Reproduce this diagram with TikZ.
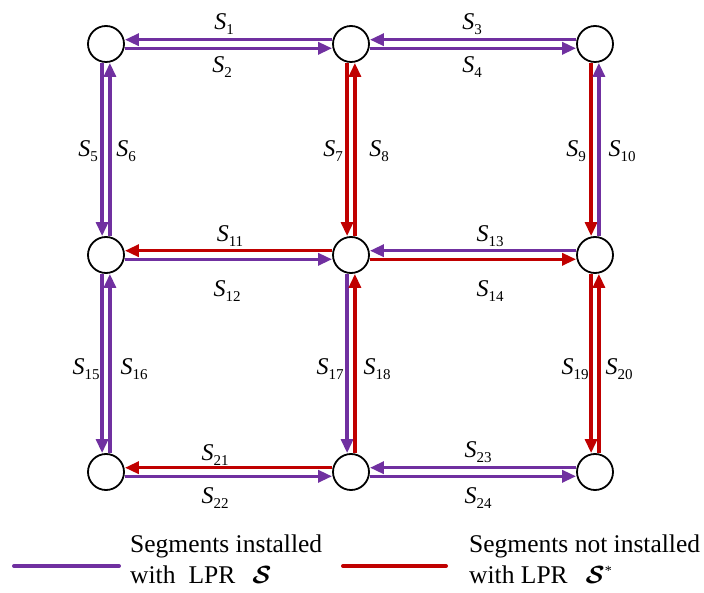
\documentclass[tikz,border=0pt]{standalone}
\usepackage{fontspec}
\usepackage{amsmath}
\setmainfont{Liberation Serif}
\usetikzlibrary{arrows.meta}
\definecolor{lprpurple}{HTML}{7030A0}
\definecolor{lprred}{HTML}{C00000}
\newcommand\seglab[1]{\textit{S}\raisebox{-0.45ex}{\fontsize{15}{15}\selectfont #1}}
\begin{document}
\begin{tikzpicture}[x=1pt,y=-1pt,
  junction/.style={circle,draw=black,line width=1.8pt,fill=white,minimum size=36pt,inner sep=0pt},
  seg/.style={line width=3.3pt,-{Triangle[length=14pt,width=12pt]}},
  inst/.style={seg,draw=lprpurple},
  notinst/.style={seg,draw=lprred},
  lab/.style={font=\fontsize{24}{27}\selectfont,inner sep=0pt},
  legtext/.style={font=\fontsize{25.5}{29}\selectfont,inner sep=0pt,anchor=base west},
  legline/.style={line width=4pt,line cap=round}]
\useasboundingbox (0,0) rectangle (704,593);

% junctions
\node[junction] (TL) at (106,44) {};
\node[junction] (TM) at (351,44) {};
\node[junction] (TR) at (595,44) {};
\node[junction] (ML) at (106,255) {};
\node[junction] (MM) at (351,255) {};
\node[junction] (MR) at (595,255) {};
\node[junction] (BL) at (106,472) {};
\node[junction] (BM) at (351,472) {};
\node[junction] (BR) at (595,472) {};

% horizontal segments (upper goes left, lower goes right)
\draw[inst]    ([yshift=4.3pt]TM.west) -- ([yshift=4.3pt]TL.east);
\draw[inst]    ([yshift=-4.3pt]TL.east) -- ([yshift=-4.3pt]TM.west);
\draw[inst]    ([yshift=4.3pt]TR.west) -- ([yshift=4.3pt]TM.east);
\draw[inst]    ([yshift=-4.3pt]TM.east) -- ([yshift=-4.3pt]TR.west);
\draw[notinst] ([yshift=4.3pt]MM.west) -- ([yshift=4.3pt]ML.east);
\draw[inst]    ([yshift=-4.3pt]ML.east) -- ([yshift=-4.3pt]MM.west);
\draw[inst]    ([yshift=4.3pt]MR.west) -- ([yshift=4.3pt]MM.east);
\draw[notinst] ([yshift=-4.3pt]MM.east) -- ([yshift=-4.3pt]MR.west);
\draw[notinst] ([yshift=4.3pt]BM.west) -- ([yshift=4.3pt]BL.east);
\draw[inst]    ([yshift=-4.3pt]BL.east) -- ([yshift=-4.3pt]BM.west);
\draw[inst]    ([yshift=4.3pt]BR.west) -- ([yshift=4.3pt]BM.east);
\draw[inst]    ([yshift=-4.3pt]BM.east) -- ([yshift=-4.3pt]BR.west);

% vertical segments (left goes down, right goes up)
\draw[inst]    ([xshift=-3.9pt]TL.south) -- ([xshift=-3.9pt]ML.north);
\draw[inst]    ([xshift=3.9pt]ML.north) -- ([xshift=3.9pt]TL.south);
\draw[notinst] ([xshift=-3.9pt]TM.south) -- ([xshift=-3.9pt]MM.north);
\draw[notinst] ([xshift=3.9pt]MM.north) -- ([xshift=3.9pt]TM.south);
\draw[notinst] ([xshift=-3.9pt]TR.south) -- ([xshift=-3.9pt]MR.north);
\draw[inst]    ([xshift=3.9pt]MR.north) -- ([xshift=3.9pt]TR.south);
\draw[inst]    ([xshift=-3.9pt]ML.south) -- ([xshift=-3.9pt]BL.north);
\draw[inst]    ([xshift=3.9pt]BL.north) -- ([xshift=3.9pt]ML.south);
\draw[inst]    ([xshift=-3.9pt]MM.south) -- ([xshift=-3.9pt]BM.north);
\draw[notinst] ([xshift=3.9pt]BM.north) -- ([xshift=3.9pt]MM.south);
\draw[notinst] ([xshift=-3.9pt]MR.south) -- ([xshift=-3.9pt]BR.north);
\draw[notinst] ([xshift=3.9pt]BR.north) -- ([xshift=3.9pt]MR.south);

% labels
\node[lab] (l1)  at (224,24)  {\seglab{1}};
\node[lab] (l2)  at (222,67)  {\seglab{2}};
\node[lab] (l3)  at (472,24)  {\seglab{3}};
\node[lab] (l4)  at (472,67)  {\seglab{4}};
\node[lab] (l5)  at (88,151)  {\seglab{5}};
\node[lab] (l6)  at (126,151) {\seglab{6}};
\node[lab] (l7)  at (333,151) {\seglab{7}};
\node[lab] (l8)  at (379,151) {\seglab{8}};
\node[lab] (l9)  at (576,151) {\seglab{9}};
\node[lab] (l10) at (622,151) {\seglab{10}};
\node[lab] (l11) at (230,236) {\seglab{11}};
\node[lab] (l12) at (227,291) {\seglab{12}};
\node[lab] (l13) at (490,236) {\seglab{13}};
\node[lab] (l14) at (490,291) {\seglab{14}};
\node[lab] (l15) at (86,369)  {\seglab{15}};
\node[lab] (l16) at (134,369) {\seglab{16}};
\node[lab] (l17) at (330,369) {\seglab{17}};
\node[lab] (l18) at (377,369) {\seglab{18}};
\node[lab] (l19) at (575,369) {\seglab{19}};
\node[lab] (l20) at (619,369) {\seglab{20}};
\node[lab] (l21) at (215,455) {\seglab{21}};
\node[lab] (l22) at (215,498) {\seglab{22}};
\node[lab] (l23) at (478,452) {\seglab{23}};
\node[lab] (l24) at (478,498) {\seglab{24}};

% legend
\coordinate (pa) at (14,566);
\coordinate (pb) at (119,566);
\coordinate (ra) at (343,566);
\coordinate (rb) at (446,566);
\draw[legline,draw=lprpurple] (pa) -- (pb);
\draw[legline,draw=lprred] (ra) -- (rb);
\node[legtext] (t1a) at (130,552) {Segments installed};
\node[legtext] (t1b) at (130,583) {with\hspace{13pt}LPR\hspace{17pt}$\boldsymbol{\mathcal{S}}$};
\node[legtext] (t2a) at (469,552) {Segments not installed};
\node[legtext] (t2b) at (469,583) {with LPR\hspace{18pt}$\boldsymbol{\mathcal{S}}$\raisebox{8pt}{\fontsize{14}{14}\selectfont *}};
\end{tikzpicture}
\end{document}
